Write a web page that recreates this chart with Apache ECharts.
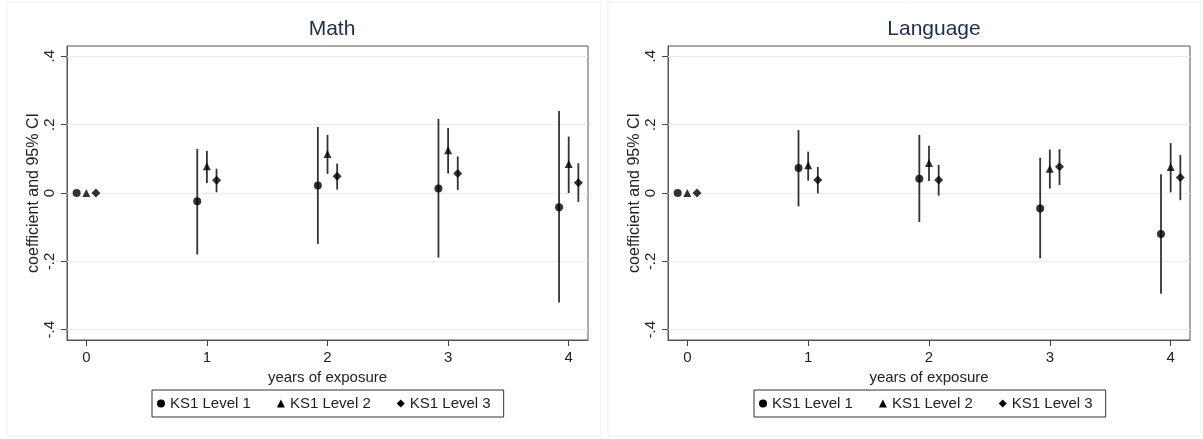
<!DOCTYPE html>
<html>
<head>
<meta charset="utf-8">
<script src="https://cdn.jsdelivr.net/npm/echarts@6/dist/echarts.min.js"></script>
<style>
  html, body { margin: 0; padding: 0; background: #fff; }
  #main { width: 1203px; height: 439px; }
</style>
</head>
<body>
<div id="main"></div>
<script>
// years of exposure
var years = [0, 1, 2, 3, 4];
var levels = ['KS1 Level 1', 'KS1 Level 2', 'KS1 Level 3'];
var yTicks = [-0.4, -0.2, 0, 0.2, 0.4];

// Math: coefficient, lower CI, upper CI (year 0 = reference, no CI)
var mathL1 = [0, -0.024, 0.022, 0.013, -0.042];
var mathL1Lo = [null, -0.180, -0.149, -0.189, -0.320];
var mathL1Hi = [null, 0.129, 0.193, 0.217, 0.240];
var mathL2 = [0, 0.078, 0.114, 0.125, 0.085];
var mathL2Lo = [null, 0.029, 0.056, 0.057, 0.000];
var mathL2Hi = [null, 0.123, 0.170, 0.190, 0.165];
var mathL3 = [0, 0.037, 0.049, 0.057, 0.030];
var mathL3Lo = [null, 0.002, 0.010, 0.009, -0.026];
var mathL3Hi = [null, 0.071, 0.086, 0.107, 0.087];

// Language
var langL1 = [0, 0.073, 0.042, -0.045, -0.120];
var langL1Lo = [null, -0.039, -0.085, -0.191, -0.295];
var langL1Hi = [null, 0.184, 0.170, 0.103, 0.055];
var langL2 = [0, 0.081, 0.088, 0.071, 0.076];
var langL2Lo = [null, 0.036, 0.035, 0.013, 0.002];
var langL2Hi = [null, 0.121, 0.138, 0.127, 0.146];
var langL3 = [0, 0.038, 0.038, 0.077, 0.045];
var langL3Lo = [null, -0.001, -0.008, 0.023, -0.021];
var langL3Hi = [null, 0.076, 0.082, 0.128, 0.111];

var offsets = [-0.08, 0, 0.08];
var symbols = ['circle', 'triangle', 'diamond'];
var symbolSizes = [8, 8, 9];
var font = 'Liberation Sans, Arial, sans-serif';

var myChart = echarts.init(document.getElementById('main'));

function fmtY(v) {
	if (v == 0) return '0';
	var s = String(Math.round(v * 10) / 10);
	return s.replace('0.', '.');
}

function makeAxes(gi) {
	var xAxis = {
		type: 'value',
		gridIndex: gi,
		min: -0.16,
		max: 4.16,
		name: 'years of exposure',
		nameLocation: 'middle',
		nameGap: 26,
		nameTextStyle: { color: '#222', fontSize: 15, fontFamily: font },
		axisLine: { show: true, onZero: false, lineStyle: { color: '#555' } },
		axisTick: { show: true, length: 6, lineStyle: { color: '#444' }, customValues: years },
		axisLabel: { color: '#222', fontSize: 15, fontFamily: font, margin: 10, customValues: years },
		splitLine: { show: false }
	};
	var yAxis = {
		type: 'value',
		gridIndex: gi,
		min: -0.43,
		max: 0.43,
		name: 'coefficient and 95% CI',
		nameLocation: 'middle',
		nameRotate: 90,
		nameGap: 25,
		nameTextStyle: { color: '#222', fontSize: 16, fontFamily: font },
		axisLine: { show: true, onZero: false, lineStyle: { color: '#555' } },
		axisTick: { show: true, length: 6, lineStyle: { color: '#444' }, customValues: yTicks },
		axisLabel: {
			color: '#222', fontSize: 15, fontFamily: font, rotate: 90, margin: 10,
			customValues: yTicks,
			formatter: fmtY
		},
		splitLine: { show: false }
	};
	return { x: xAxis, y: yAxis };
}

function buildSeries(gi, pts, los, his) {
	var out = [];
	// grid lines
	out.push({
		type: 'line',
		xAxisIndex: gi,
		yAxisIndex: gi,
		data: [],
		silent: true,
		markLine: {
			silent: true,
			symbol: 'none',
			z: 1,
			label: { show: false },
			lineStyle: { color: '#e6eff0', width: 1.2, type: 'solid' },
			data: yTicks.map(function(v) { return { yAxis: v }; })
		}
	});
	for (var k = 0; k < 3; k++) {
		var bars = [];
		var dots = [];
		for (var i = 0; i < years.length; i++) {
			var xv = years[i] + offsets[k];
			dots.push([xv, pts[k][i]]);
			if (los[k][i] != null) {
				bars.push([xv, los[k][i], his[k][i]]);
			}
		}
		out.push({
			type: 'custom',
			name: levels[k],
			xAxisIndex: gi,
			yAxisIndex: gi,
			silent: true,
			z: 2,
			renderItem: function(params, api) {
				var p1 = api.coord([api.value(0), api.value(1)]);
				var p2 = api.coord([api.value(0), api.value(2)]);
				return {
					type: 'line',
					shape: { x1: p1[0], y1: p1[1], x2: p2[0], y2: p2[1] },
					style: { stroke: '#333', lineWidth: 1.8 }
				};
			},
			data: bars
		});
		out.push({
			type: 'scatter',
			name: levels[k],
			xAxisIndex: gi,
			yAxisIndex: gi,
			symbol: symbols[k],
			symbolSize: symbolSizes[k],
			itemStyle: { color: '#000' },
			z: 3,
			data: dots
		});
	}
	return out;
}

var a0 = makeAxes(0);
var a1 = makeAxes(1);

var legendBase = {
	top: 390,
	orient: 'horizontal',
	itemWidth: 8,
	itemHeight: 8,
	itemGap: 26,
	padding: [6, 13, 6, 5],
	borderColor: '#333',
	borderWidth: 1,
	textStyle: { color: '#222', fontSize: 15, fontFamily: font },
	selectedMode: false,
	data: [
		{ name: levels[0], icon: 'circle', itemStyle: { color: '#000' } },
		{ name: levels[1], icon: 'triangle', itemStyle: { color: '#000' } },
		{ name: levels[2], icon: 'diamond', itemStyle: { color: '#000' } }
	]
};

var option = {
	backgroundColor: '#fff',
	animation: false,
	title: [
		{ text: 'Math', left: 327, top: 14, textAlign: 'center',
			textStyle: { color: '#1e2d4d', fontSize: 21, fontWeight: 'normal', fontFamily: font } },
		{ text: 'Language', left: 929, top: 14, textAlign: 'center',
			textStyle: { color: '#1e2d4d', fontSize: 21, fontWeight: 'normal', fontFamily: font } }
	],
	grid: [
		{ left: 67, top: 46, width: 521, height: 294, show: true, borderColor: '#555', borderWidth: 1 },
		{ left: 668, top: 46, width: 522, height: 294, show: true, borderColor: '#555', borderWidth: 1 }
	],
	legend: [
		Object.assign({}, legendBase, { left: 152 }),
		Object.assign({}, legendBase, { left: 754 })
	],
	xAxis: [a0.x, a1.x],
	yAxis: [a0.y, a1.y],
	graphic: [
		{ type: 'rect', shape: { x: 7, y: 2, width: 594, height: 434 }, style: { fill: 'none', stroke: '#f0f0f0' }, silent: true },
		{ type: 'rect', shape: { x: 608, y: 2, width: 593, height: 434 }, style: { fill: 'none', stroke: '#f0f0f0' }, silent: true }
	],
	series: buildSeries(0,
			[mathL1, mathL2, mathL3],
			[mathL1Lo, mathL2Lo, mathL3Lo],
			[mathL1Hi, mathL2Hi, mathL3Hi])
		.concat(buildSeries(1,
			[langL1, langL2, langL3],
			[langL1Lo, langL2Lo, langL3Lo],
			[langL1Hi, langL2Hi, langL3Hi]))
};
myChart.setOption(option);
</script>
</body>
</html>
